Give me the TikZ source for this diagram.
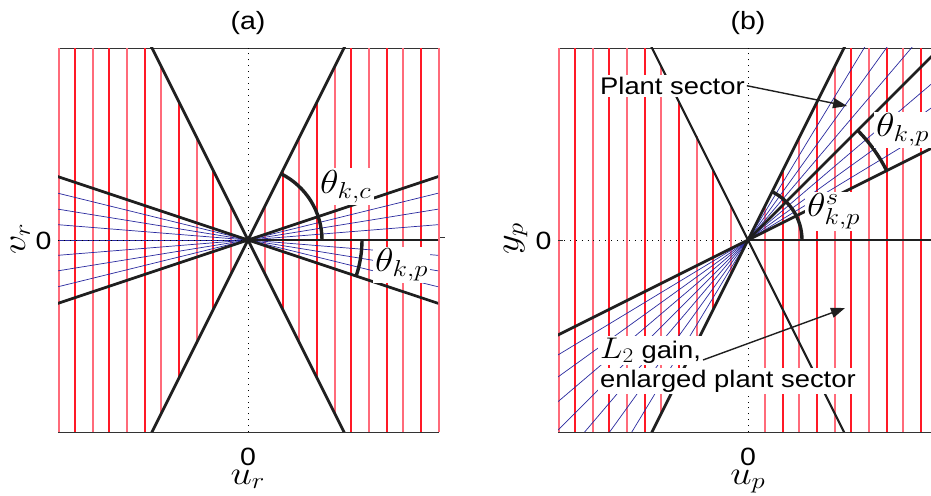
\documentclass[tikz,border=0pt]{standalone}
\usepackage[no-math]{fontspec}
\setmainfont{Liberation Sans}
\usetikzlibrary{arrows.meta}
\definecolor{redl}{rgb}{1,0.1,0.15}
\definecolor{pinkl}{rgb}{1,0.42,0.48}
\definecolor{bluel}{rgb}{0.16,0.16,0.62}
\definecolor{frame}{gray}{0.2}
\newcommand{\mathlab}[1]{\scalebox{1.85}[1.6]{$#1$}}
\newcommand{\widetxt}[1]{\scalebox{1.14}[1]{#1}}
\begin{document}
\begin{tikzpicture}[x=1pt,y=1pt,
  frm/.style={draw=frame,line width=0.9pt},
  redln/.style={line width=1.35pt},
  blueln/.style={draw=bluel,line width=0.7pt},
  blk/.style={draw=black!88,line width=2.7pt},
  blkthin/.style={draw=black!88,line width=2.1pt},
  arcln/.style={draw=black!88,line width=3.4pt},
  axdot/.style={draw=black,line width=0.9pt,dash pattern=on 0.9pt off 5pt},
  txt/.style={font=\fontsize{25}{27}\selectfont,inner sep=0pt},
  ltxt/.style={font=\fontsize{24}{26}\selectfont,inner sep=0pt},
  mth/.style={font=\fontsize{20.74}{21}\selectfont,inner sep=0pt},
  lab/.style={fill=white,inner sep=2pt},
  arr/.style={draw=black!88,line width=1.4pt,-{Triangle[length=14pt,width=10pt]}}]
\useasboundingbox (0,0) rectangle (931,495);
\clip (0,0) rectangle (931,495);
% ---------------- panel (a)
\begin{scope}[shift={(248,255)}]
  \draw[frm] (-190,-192) rectangle (190,192);
  \foreach \k in {1,...,11}{
    \pgfmathsetmacro\uu{\k*190/11}
    \pgfmathsetmacro\hh{min(192,2*\uu)}
    \pgfmathsetmacro\xp{2*floor(\uu/2)+1}
    \pgfmathsetmacro\xn{2*floor(-\uu/2)+1}
    \pgfmathparse{int(mod(\k,2))}
    \ifnum\pgfmathresult=1 \def\rc{pinkl}\else\def\rc{redl}\fi
    \draw[redln,draw=\rc] (\xp,-\hh) -- (\xp,\hh);
    \draw[redln,draw=\rc] (\xn,-\hh) -- (\xn,\hh);
  }
  \begin{scope}
    \clip (-190,-192) rectangle (190,192);
    \foreach \i in {0,...,8}{
      \pgfmathsetmacro\aa{-18.435+\i*4.60875}
      \pgfmathsetmacro\bb{\aa+180}
      \draw[blueln] (\aa:300) -- (\bb:300);
    }
    \draw[axdot] (0,-192) -- (0,192);
    \draw[axdot] (-190,0) -- (0,0);
    \draw[blk] (63.435:300) -- (243.435:300);
    \draw[blk] (116.565:300) -- (296.565:300);
    \draw[blk] (18.435:300) -- (198.435:300);
    \draw[blk] (-18.435:300) -- (161.565:300);
    \draw[blk] (0,0) -- (190,0);
  \end{scope}
  \draw[frame,line width=0.6pt] (192,3) -- (197,3);
  \draw[arcln] (74,0) arc[start angle=0,end angle=63.435,radius=74];
  \draw[arcln] (114,0) arc[start angle=0,end angle=-18.435,radius=114];
  \node[mth,lab,anchor=base west] (tkc) at (70,46.7) {\mathlab{\theta_{k,c}}};
  \node[mth,lab,anchor=base west] (tkpa) at (125,-31.7) {\mathlab{\theta_{k,p}}};
  \node[txt,anchor=base] (ta) at (0,210.7) {\widetxt{(a)}};
  \node[txt,anchor=base east] (y0a) at (-196.3,-10) {\widetxt{0}};
  \node[txt,anchor=base] (x0a) at (0,-225) {\widetxt{0}};
  \node[mth,anchor=base] (xla) at (0,-244) {\mathlab{u_r}};
  \node[mth,anchor=base,rotate=90] (yla) at (-223,1.5) {\mathlab{v_r}};
\end{scope}
% ---------------- panel (b)
\begin{scope}[shift={(748,255)}]
  \draw[frm] (-190,-192) rectangle (190,192);
  \foreach \k in {1,...,11}{
    \pgfmathsetmacro\uu{\k*190/11}
    \pgfmathsetmacro\hh{min(192,2*\uu)}
    \pgfmathsetmacro\xp{2*floor(\uu/2)+1}
    \pgfmathsetmacro\xn{2*floor(-\uu/2)+1}
    \pgfmathparse{int(mod(\k,2))}
    \ifnum\pgfmathresult=1 \def\rc{pinkl}\else\def\rc{redl}\fi
    \draw[redln,draw=\rc] (\xp,-192) -- (\xp,\hh);
    \draw[redln,draw=\rc] (\xn,-\hh) -- (\xn,\hh);
  }
  \begin{scope}
    \clip (-190,-192) rectangle (190,192);
    \foreach \i in {0,...,8}{
      \pgfmathsetmacro\aa{26.565+\i*4.60875}
      \pgfmathsetmacro\bb{\aa+180}
      \draw[blueln] (\aa:300) -- (\bb:300);
    }
    \draw[axdot] (0,-192) -- (0,192);
    \draw[axdot] (-190,0) -- (0,0);
    \draw[blk] (63.435:300) -- (243.435:300);
    \draw[blkthin] (116.565:300) -- (296.565:300);
    \draw[blk] (26.565:300) -- (206.565:300);
    \draw[blk] (0,0) -- (45:300);
    \draw[blk] (0,0) -- (190,0);
    \draw[frame,line width=0.9pt] (-190,0) -- (-185,0);
  \end{scope}
  \draw[arcln] (54,0) arc[start angle=0,end angle=63.435,radius=54];
  \draw[arcln] (26.565:155) arc[start angle=26.565,end angle=45,radius=155];
  \node[mth,lab,anchor=base west] (tkpb) at (126,103.3) {\mathlab{\theta_{k,p}}};
  \node[mth,lab,anchor=base west] (tks) at (57,23.3) {\mathlab{\theta^{s}_{k,p}}};
  \node[ltxt,lab,anchor=base west] (plant) at (-150,145.7) {\widetxt{Plant sector}};
  \node[ltxt,lab,anchor=base west] (gain) at (-150,-118.3) {\scalebox{1.35}[1.2]{$L_2$}\widetxt{ gain,}};
  \node[ltxt,lab,anchor=base west] (enl) at (-150,-147.3) {\widetxt{enlarged plant sector}};
  \coordinate (tipa) at (99,134);
  \coordinate (tipb) at (97,-68);
  \coordinate (startb) at (-45,-120);
  \draw[arr] (plant.east) -- (tipa);
  \draw[arr] (startb) -- (tipb);
  \node[txt,anchor=base] (tb) at (0,210.7) {\widetxt{(b)}};
  \node[txt,anchor=base east] (y0b) at (-196.3,-10) {\widetxt{0}};
  \node[txt,anchor=base] (x0b) at (0,-225) {\widetxt{0}};
  \node[mth,anchor=base] (xlb) at (0,-244) {\mathlab{u_p}};
  \node[mth,anchor=base,rotate=90] (ylb) at (-230,1.5) {\mathlab{y_p}};
\end{scope}
\end{tikzpicture}
\end{document}
